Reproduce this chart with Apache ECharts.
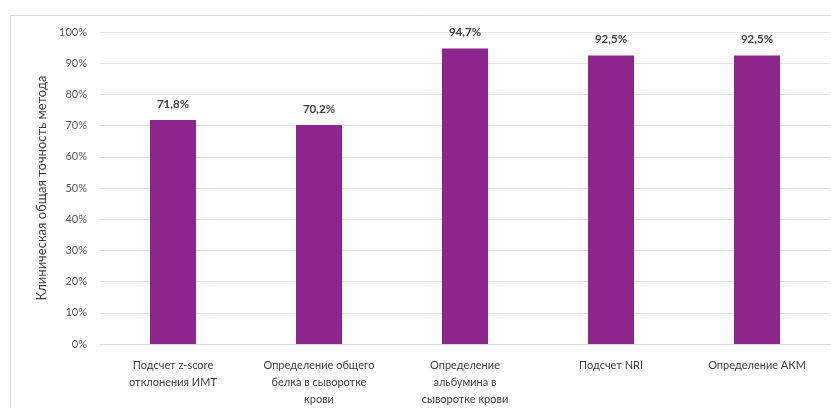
<!DOCTYPE html>
<html><head><meta charset="utf-8">
<script src="https://cdn.jsdelivr.net/npm/echarts@6/dist/echarts.min.js"></script>
<style>html,body{margin:0;padding:0;background:#fff}#c{width:831px;height:408px}</style>
</head><body><div id="c"></div>
<script>
const categories = [
  "Подсчет z-score\nотклонения ИМТ",
  "Определение общего\nбелка в сыворотке\nкрови",
  "Определение\nальбумина в\nсыворотке крови",
  "Подсчет NRI",
  "Определение АКМ"
];
const values = [71.8, 70.2, 94.7, 92.5, 92.5];
const yTicks = [0, 10, 20, 30, 40, 50, 60, 70, 80, 90, 100];
const axisTitle = "Клиническая общая точность метода";

const chart = echarts.init(document.getElementById('c'), null, {renderer: 'canvas'});
const font = 'Lato, "Noto Sans", sans-serif';
chart.setOption({
  animation: false,
  graphic: [{
    type: 'rect', shape: {x: 10.5, y: 15.5, width: 840, height: 420},
    style: {fill: 'none', stroke: '#d9d9d9', lineWidth: 1}, z: -1
  }],
  grid: {left: 100, right: 1, top: 32, bottom: 61},
  xAxis: {
    type: 'category', data: categories,
    axisTick: {show: false},
    axisLine: {lineStyle: {color: '#d9d9d9'}},
    axisLabel: {color: '#404040', fontFamily: font, fontSize: 11, lineHeight: 17, margin: 13, interval: 0}
  },
  yAxis: {
    type: 'value', min: yTicks[0], max: yTicks[yTicks.length - 1], interval: 10,
    name: axisTitle, nameLocation: 'middle', nameGap: 51,
    nameTextStyle: {color: '#404040', fontFamily: font, fontSize: 13},
    axisLine: {show: false}, axisTick: {show: false},
    axisLabel: {color: '#595959', fontFamily: font, fontSize: 11, margin: 13, formatter: v => v + '%'},
    splitLine: {lineStyle: {color: '#e6e6e6'}}
  },
  series: [{
    type: 'bar', data: values, barWidth: 46,
    itemStyle: {color: '#8e258d'},
    label: {show: true, position: 'top', distance: 10, color: '#404040', fontFamily: font, fontSize: 11.5, fontWeight: 'bold',
      formatter: p => p.value.toFixed(1).replace('.', ',') + '%'}
  }]
});
</script></body></html>
